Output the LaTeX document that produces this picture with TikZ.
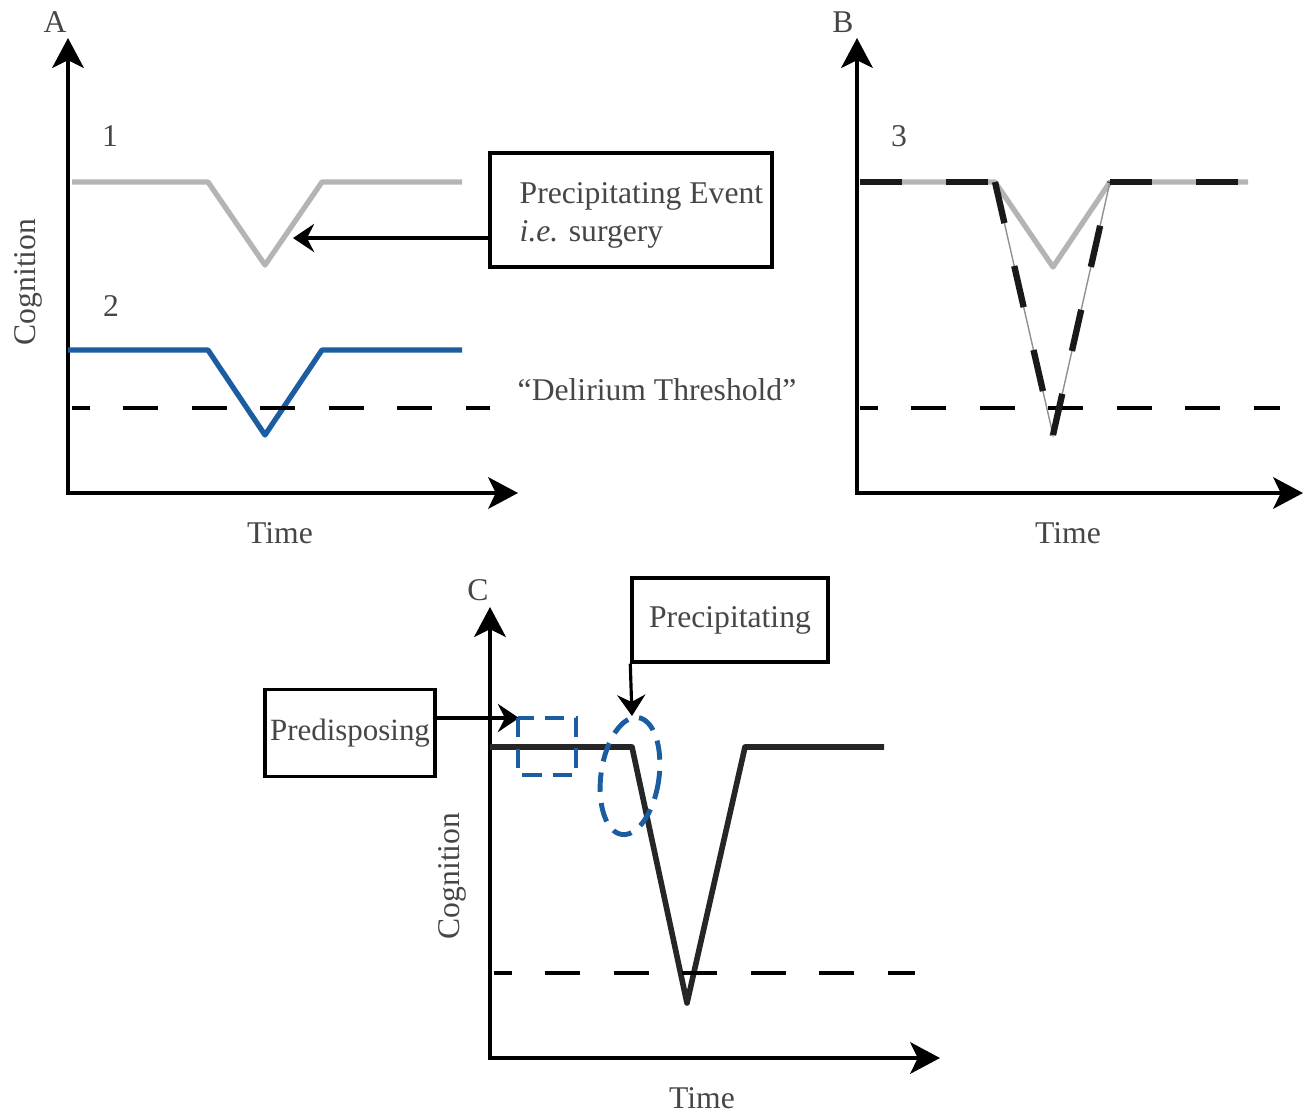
\documentclass[tikz,border=0pt]{standalone}
\usepackage{fontspec}
\setmainfont{Liberation Serif}
\usetikzlibrary{arrows.meta}
\definecolor{curvegray}{RGB}{180,180,180}
\definecolor{cblue}{RGB}{28,92,160}
\definecolor{txt}{RGB}{70,70,70}
\begin{document}
\begin{tikzpicture}[x=0.01cm,y=-0.01cm,
  every node/.style={font=\fontsize{9}{11}\selectfont, text=txt},
  axis/.style={line width=1pt, {Stealth[length=8.5pt,width=9pt,inset=2.2pt]}-{Stealth[length=8.5pt,width=9pt,inset=2.2pt]}},
  conn/.style={line width=0.9pt, -{Stealth[length=6pt,width=8pt,inset=2pt]}},
  thresh/.style={line width=0.95pt, dash pattern=on 10pt off 9.5pt, dash phase=5pt},
  graycurve/.style={line width=1.5pt, curvegray, line join=round},
  thingray/.style={line width=0.4pt, curvegray!80!black},
  bluecurve/.style={line width=1.5pt, cblue, line join=round},
  blackcurve/.style={line width=1.6pt, black!85, line join=round},
  bdash/.style={line width=1.8pt, black!90, dash pattern=on 12pt off 12.5pt},
  box/.style={draw, line width=0.95pt, rectangle, inner sep=0pt},
  bluedash/.style={cblue, line width=1.4pt, dash pattern=on 5.5pt off 3.2pt},
  plain/.style={inner sep=0pt},
]
\useasboundingbox (0,0) rectangle (1305,1111);

% ---------------- Panel A ----------------
\coordinate (Ay) at (68,38);
\coordinate (Ao) at (68,493);
\coordinate (Ax) at (518,493);
\draw[axis] (Ay) -- (Ao) -- (Ax);
\node (Alab) at (55,22) {A};
\node (one) at (110,136) {1};
\node (two) at (111,306) {2};
\node[rotate=90] (cogA) at (28,282) {Cognition};
\node (timeA) at (280,533) {Time};

\draw[graycurve] (72,182) -- (208,182) -- (265,265) -- (322,182) -- (462,182);
\draw[bluecurve] (68,350) -- (208,350) -- (265,435) -- (322,350) -- (462,350);
\draw[thresh] (72,408) -- (490,408);
\node (delir) at (657,390) {“Delirium Threshold”};

\node[box, minimum width=2.82cm, minimum height=1.14cm] (pbox) at (631,210) {};
\node[plain, anchor=base west] (ptext1) at (519,203) {Precipitating Event};
\node[plain, anchor=base west] (ptext2) at (519,241) {\textit{i.e.} surgery};
\coordinate (Aarr) at (293,238);
\draw[conn] (pbox.west |- Aarr) -- (Aarr);

% ---------------- Panel B ----------------
\coordinate (By) at (857,38);
\coordinate (Bo) at (857,493);
\coordinate (Bx) at (1303,493);
\draw[axis] (By) -- (Bo) -- (Bx);
\node (Blab) at (843,22) {B};
\node (three) at (899,136) {3};
\node (timeB) at (1068,533) {Time};

\coordinate (b1) at (860,182);
\coordinate (b2) at (995,182);
\coordinate (b3) at (1053,435);
\coordinate (b4) at (1110,182);
\coordinate (b5) at (1248,182);
\coordinate (bs) at (1053,267);
\draw[graycurve] (b1) -- (b2) -- (bs) -- (b4) -- (b5);
\draw[thingray] (b2) -- (b3) -- (b4);
\draw[thresh] (860,408) -- (1280,408);
\draw[bdash] (b1) -- (b2);
\draw[bdash] (b2) -- (b3);
\draw[bdash] (b3) -- (b4);
\draw[bdash] (b4) -- (b5);

% ---------------- Panel C ----------------
\coordinate (Cy) at (490,607);
\coordinate (Co) at (490,1058);
\coordinate (Cx) at (940,1058);
\draw[axis] (Cy) -- (Co) -- (Cx);
\node (Clab) at (478,590) {C};
\node[rotate=90] (cogC) at (452,876) {Cognition};
\node (timeC) at (702,1098) {Time};

\draw[blackcurve] (490,747) -- (632,747) -- (687,1003) -- (745,747) -- (884,747);
\draw[thresh] (494,973) -- (915,973);

\node[box, minimum width=1.70cm, minimum height=0.87cm, font=\fontsize{8.8}{10}\selectfont] (predbox) at (350,733) {Predisposing};
\node[box, minimum width=1.96cm, minimum height=0.84cm] (precbox) at (730,620) {Precipitating};
\coordinate (Cp) at (519,718);
\draw[conn] (predbox.east |- Cp) -- (Cp);
\coordinate (Cq) at (632,716);
\draw[conn] (precbox.south west) -- (Cq);

\draw[bluedash] (518,718) rectangle (576,775);
\draw[bluedash, rotate around={-8:(630,776)}] (630,776) ellipse [x radius=29, y radius=59];

\end{tikzpicture}
\end{document}
